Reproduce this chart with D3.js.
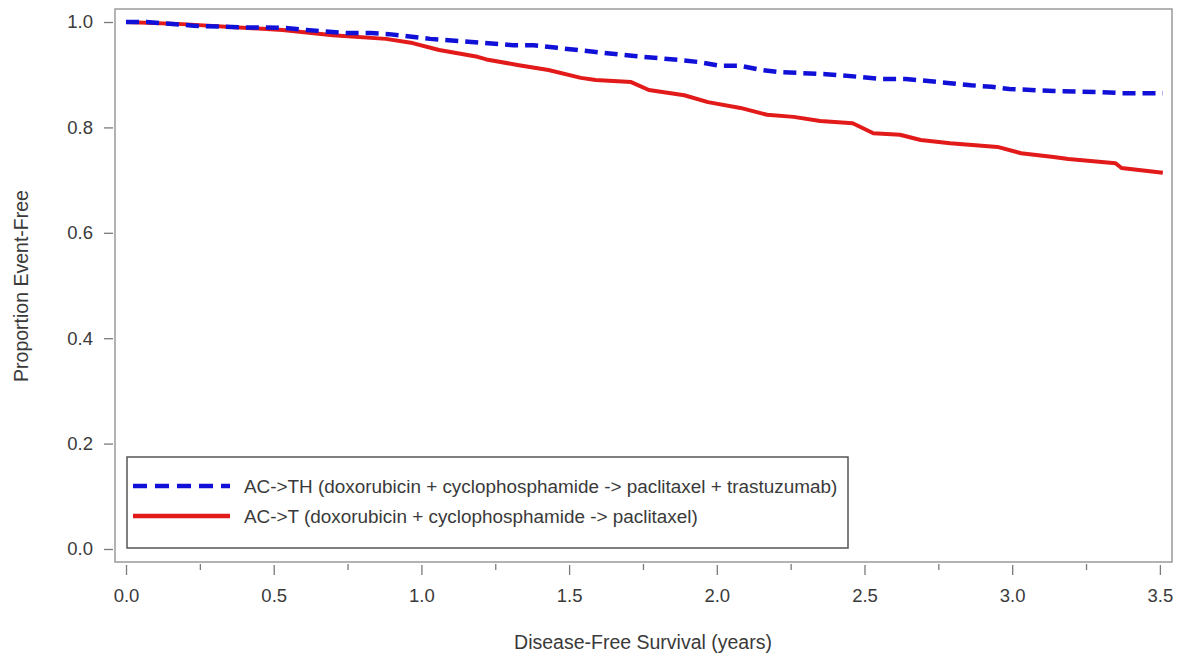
<!DOCTYPE html>
<html>
<head>
<meta charset="utf-8">
<script src="https://cdn.jsdelivr.net/npm/d3@7"></script>
<style>
  html, body { margin: 0; padding: 0; background: #fff; }
  svg { display: block; }
  text { font-family: "Liberation Sans", Arial, sans-serif; fill: #3a3a3a; }
</style>
</head>
<body>
<svg id="chart" width="1181" height="658"></svg>
<script>
// ---- Data ----
const xTickValues = [0, 0.5, 1.0, 1.5, 2.0, 2.5, 3.0, 3.5];
const xMinorTickValues = [0.25, 0.75, 1.25, 1.75, 2.25, 2.75, 3.25];
const yTickValues = [0.0, 0.2, 0.4, 0.6, 0.8, 1.0];

const seriesNames = [
  "AC->TH (doxorubicin + cyclophosphamide -> paclitaxel + trastuzumab)",
  "AC->T (doxorubicin + cyclophosphamide -> paclitaxel)"
];

const thTime = [0, 0.07, 0.23, 0.38, 0.53, 0.61, 0.75, 0.83, 0.89, 1.03, 1.17, 1.31, 1.38, 1.46, 1.59, 1.73, 1.87, 1.94, 2.01, 2.08, 2.15, 2.21, 2.37, 2.48, 2.56, 2.64, 2.79, 2.86, 2.93, 2.99, 3.14, 3.30, 3.37, 3.51];
const thSurv = [1.0, 1.0, 0.993, 0.990, 0.989, 0.985, 0.979, 0.979, 0.977, 0.968, 0.962, 0.956, 0.956, 0.951, 0.943, 0.935, 0.928, 0.924, 0.917, 0.917, 0.909, 0.905, 0.901, 0.896, 0.892, 0.892, 0.884, 0.880, 0.877, 0.873, 0.869, 0.867, 0.865, 0.865];

const tTime = [0, 0.19, 0.53, 0.70, 0.88, 0.97, 1.06, 1.19, 1.22, 1.33, 1.43, 1.54, 1.59, 1.71, 1.77, 1.89, 1.97, 2.08, 2.17, 2.26, 2.35, 2.46, 2.53, 2.62, 2.69, 2.79, 2.95, 3.03, 3.14, 3.19, 3.35, 3.37, 3.51];
const tSurv = [1.0, 0.996, 0.985, 0.975, 0.968, 0.960, 0.947, 0.934, 0.929, 0.918, 0.909, 0.894, 0.890, 0.886, 0.871, 0.861, 0.848, 0.837, 0.824, 0.820, 0.812, 0.808, 0.789, 0.786, 0.776, 0.770, 0.763, 0.751, 0.744, 0.740, 0.732, 0.723, 0.714];

// ---- Layout ----
const svg = d3.select("#chart");
const frame = { left: 115, top: 9, right: 1172, bottom: 562 };

const x = d3.scaleLinear().domain([-0.0373, 3.541]).range([frame.left, frame.right]);
const y = d3.scaleLinear().domain([-0.0247, 1.0247]).range([frame.bottom, frame.top]);

// Frame
svg.append("rect")
  .attr("x", frame.left).attr("y", frame.top)
  .attr("width", frame.right - frame.left).attr("height", frame.bottom - frame.top)
  .attr("fill", "none").attr("stroke", "#9a9a9a").attr("stroke-width", 1.5);

// Y axis
const yAxis = svg.append("g")
  .attr("transform", `translate(${frame.left - 2},0)`)
  .call(d3.axisLeft(y).tickValues(yTickValues).tickFormat(d3.format(".1f")).tickSize(9).tickPadding(11));
yAxis.select(".domain").remove();
yAxis.selectAll(".tick line").attr("stroke", "#7a7a7a").attr("stroke-width", 1.3);
yAxis.selectAll(".tick text").style("font-size", "18.5px").attr("fill", "#3a3a3a")
  .style("font-family", "'Liberation Sans', Arial, sans-serif");

// X axis major
const xAxis = svg.append("g")
  .attr("transform", `translate(0,${frame.bottom + 3})`)
  .call(d3.axisBottom(x).tickValues(xTickValues).tickFormat(d3.format(".1f")).tickSize(10).tickPadding(14));
xAxis.select(".domain").remove();
xAxis.selectAll(".tick line").attr("stroke", "#7a7a7a").attr("stroke-width", 1.3);
xAxis.selectAll(".tick text").style("font-size", "18.5px").attr("fill", "#3a3a3a")
  .style("font-family", "'Liberation Sans', Arial, sans-serif");

// X axis minor
const xMinor = svg.append("g")
  .attr("transform", `translate(0,${frame.bottom + 2})`)
  .call(d3.axisBottom(x).tickValues(xMinorTickValues).tickFormat("").tickSize(6));
xMinor.select(".domain").remove();
xMinor.selectAll(".tick line").attr("stroke", "#7a7a7a").attr("stroke-width", 1.3);

// Axis titles
svg.append("text")
  .attr("x", 643).attr("y", 649)
  .attr("text-anchor", "middle").style("font-size", "19.5px")
  .text("Disease-Free Survival (years)");

svg.append("text")
  .attr("transform", `translate(28,286) rotate(-90)`)
  .attr("text-anchor", "middle").style("font-size", "19.5px")
  .text("Proportion Event-Free");

// Curves
const line = d3.line().x(d => x(d[0])).y(d => y(d[1]));
const thData = thTime.map((t, i) => [t, thSurv[i]]);
const tData = tTime.map((t, i) => [t, tSurv[i]]);

const plot = svg.append("g");
plot.append("path").datum(tData)
  .attr("d", line).attr("fill", "none")
  .attr("stroke", "#e21a1a").attr("stroke-width", 4).attr("stroke-linejoin", "round");
plot.append("path").datum(thData)
  .attr("d", line).attr("fill", "none")
  .attr("stroke", "#1010d8").attr("stroke-width", 4.5).attr("stroke-dasharray", "13,7");

// Legend
const legend = svg.append("g");
legend.append("rect")
  .attr("x", 127).attr("y", 457).attr("width", 721).attr("height", 91)
  .attr("fill", "#fff").attr("stroke", "#555").attr("stroke-width", 1.5);

const legendItems = [
  { name: seriesNames[0], color: "#1010d8", dash: "14,8", yy: 486 },
  { name: seriesNames[1], color: "#e21a1a", dash: null, yy: 516 }
];
legendItems.forEach(it => {
  const l = legend.append("line")
    .attr("x1", 133).attr("x2", 230).attr("y1", it.yy).attr("y2", it.yy)
    .attr("stroke", it.color).attr("stroke-width", 4.5);
  if (it.dash) l.attr("stroke-dasharray", it.dash);
  legend.append("text")
    .attr("x", 244).attr("y", it.yy).attr("dy", "0.35em")
    .style("font-size", "18.9px")
    .text(it.name);
});
</script>
</body>
</html>
